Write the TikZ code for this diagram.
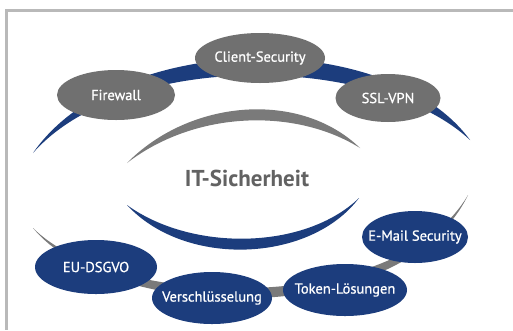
\documentclass[tikz,border=0pt]{standalone}
\usepackage{fontspec}
\setmainfont{PT Sans}
\newfontfamily\labelfont[FakeBold=0.8]{PT Sans}
\usetikzlibrary{shapes.geometric}
\definecolor{itblue}{RGB}{28,61,125}
\definecolor{itgray}{RGB}{112,112,112}
\definecolor{arcgray}{RGB}{122,122,122}
\definecolor{framegray}{RGB}{185,185,185}
\definecolor{titlegray}{RGB}{98,98,98}

\begin{document}
\begin{tikzpicture}[x=1pt, y=-1pt,
  topic/.style={ellipse, inner sep=0pt, text=white, font=\labelfont\fontsize{14.5}{16}\selectfont,
    execute at begin node=\hbox to 0pt\bgroup\hss, execute at end node=\hss\egroup},
  grayitem/.style={topic, fill=itgray},
  blueitem/.style={topic, fill=itblue}]
\useasboundingbox (0,0) rectangle (513,330);
\fill[white] (0,0) rectangle (513,330);
\draw[framegray, line width=3pt] (513,10) -- (6,10) -- (6,330);
\fill[itblue] (33,153) .. controls (118,30) and (388,28) .. (470,140) .. controls (378,54) and (125,49) .. (33,153) -- cycle;
\fill[arcgray] (33,228) .. controls (110,322) and (402,332) .. (468,195) .. controls (396,318) and (114,309) .. (33,228) -- cycle;
\fill[arcgray] (127,163) .. controls (190,99) and (300,90) .. (360,148) .. controls (296,108) and (196,110) .. (127,163) -- cycle;
\fill[itblue] (127,205) .. controls (185,268) and (310,263) .. (359,198) .. controls (305,250) and (192,252) .. (127,205) -- cycle;
\node[grayitem, minimum width=130, minimum height=50] (client) at (260,58) {Client-Security};
\node[grayitem, minimum width=118, minimum height=50] (firewall) at (116,95) {Firewall};
\node[grayitem, minimum width=105, minimum height=48] (sslvpn) at (388,98) {SSL-VPN};
\node[blueitem, minimum width=106, minimum height=52] (email) at (415,237) {E-Mail Security};
\node[blueitem, minimum width=124, minimum height=52] (token) at (345,290) {Token-Lösungen};
\node[blueitem, minimum width=120, minimum height=52] (crypt) at (212,298) {Verschlüsselung};
\node[blueitem, minimum width=122, minimum height=54] (dsgvo) at (96,267) {EU-DSGVO};
\node[text=titlegray, font=\fontsize{23}{26}\selectfont\bfseries] (center) at (247,178) {IT-Sicherheit};
\end{tikzpicture}
\end{document}
